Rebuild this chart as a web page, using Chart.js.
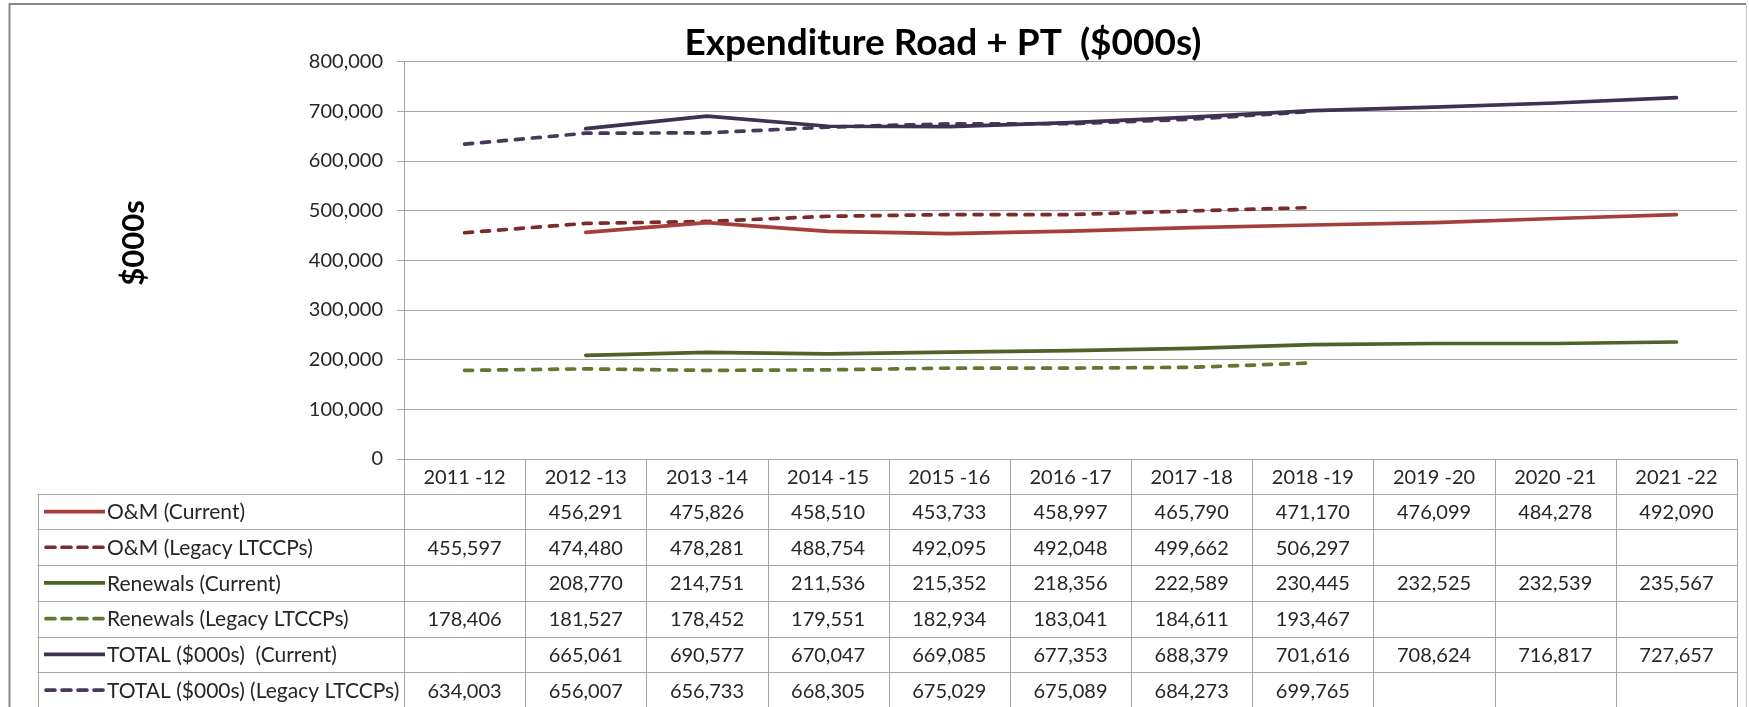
<!DOCTYPE html>
<html>
<head>
<meta charset="utf-8">
<script src="https://cdn.jsdelivr.net/npm/chart.js@4.4.1/dist/chart.umd.min.js"></script>
<style>
  html, body { margin: 0; padding: 0; background: #ffffff; overflow: hidden; }
  #wrap { width: 1749px; height: 707px; position: relative; }
</style>
</head>
<body>
<div id="wrap"><canvas id="c" width="1749" height="707"></canvas></div>
<script>
// ---- Data ----
const categories = ['2011 -12', '2012 -13', '2013 -14', '2014 -15', '2015 -16', '2016 -17',
                    '2017 -18', '2018 -19', '2019 -20', '2020 -21', '2021 -22'];
const omCurrent  = [null, 456291, 475826, 458510, 453733, 458997, 465790, 471170, 476099, 484278, 492090];
const omLegacy   = [455597, 474480, 478281, 488754, 492095, 492048, 499662, 506297, null, null, null];
const renCurrent = [null, 208770, 214751, 211536, 215352, 218356, 222589, 230445, 232525, 232539, 235567];
const renLegacy  = [178406, 181527, 178452, 179551, 182934, 183041, 184611, 193467, null, null, null];
const totCurrent = [null, 665061, 690577, 670047, 669085, 677353, 688379, 701616, 708624, 716817, 727657];
const totLegacy  = [634003, 656007, 656733, 668305, 675029, 675089, 684273, 699765, null, null, null];
const seriesNames = ['O&M (Current)', 'O&M (Legacy LTCCPs)', 'Renewals (Current)',
                     'Renewals (Legacy LTCCPs)', 'TOTAL ($000s)  (Current)', 'TOTAL ($000s) (Legacy LTCCPs)'];
const yTicks = [0, 100000, 200000, 300000, 400000, 500000, 600000, 700000, 800000];
const chartTitle = 'Expenditure Road + PT  ($000s)';
const yTitle = '$000s';

// ---- Styles ----
const FONT = 'Lato, "Open Sans", sans-serif';
const TEXT = '#262626';
const GRID = '#A6A6A6';
const colors = ['#A43F3B', '#7A2C2A', '#4F6228', '#627832', '#3F3151', '#47385C'];
const dashed = [false, true, false, true, false, true];
const DASH = [8, 9];

const seriesData = [omCurrent, omLegacy, renCurrent, renLegacy, totCurrent, totLegacy];
const fmt = v => (v === null || v === undefined) ? '' : v.toLocaleString('en-US');

const datasets = seriesData.map((d, i) => ({
  label: seriesNames[i],
  data: d,
  borderColor: colors[i],
  backgroundColor: colors[i],
  borderWidth: 3.7,
  borderDash: dashed[i] ? DASH : [],
  borderCapStyle: 'round',
  borderJoinStyle: 'round',
  pointRadius: 0,
  pointHoverRadius: 0,
  tension: 0,
  spanGaps: false,
  fill: false
}));

const framePlugin = {
  id: 'frameAndTable',
  beforeDraw(chart) {
    const ctx = chart.ctx;
    ctx.save();
    ctx.fillStyle = '#ffffff';
    ctx.fillRect(0, 0, chart.width, chart.height);
    // outer chart frame
    ctx.strokeStyle = '#878787';
    ctx.lineWidth = 2;
    ctx.beginPath();
    ctx.moveTo(9.5, 720); ctx.lineTo(9.5, 4); ctx.lineTo(1746, 4);
    ctx.stroke();
    ctx.strokeStyle = '#C8C8C8';
    ctx.lineWidth = 1;
    ctx.beginPath();
    ctx.moveTo(1746.5, 4); ctx.lineTo(1746.5, 720);
    ctx.stroke();
    ctx.restore();
  },
  afterDraw(chart) {
    const ctx = chart.ctx;
    const area = chart.chartArea;
    const xs = chart.scales.x;
    const n = categories.length;
    const colW = (area.right - area.left) / n;
    ctx.save();

    // Title
    ctx.fillStyle = '#000';
    ctx.font = 'bold 37px ' + FONT;
    ctx.textAlign = 'center';
    ctx.textBaseline = 'alphabetic';
    ctx.fillText(chartTitle, 943, 55);

    // Y axis title
    ctx.save();
    ctx.translate(134, 243);
    ctx.rotate(-Math.PI / 2);
    ctx.font = 'bold 31px ' + FONT;
    ctx.textAlign = 'center';
    ctx.textBaseline = 'middle';
    ctx.fillText(yTitle, 0, 0);
    ctx.restore();

    // Data table
    const tableLeft = 37.5;
    const top0 = area.bottom;
    const headerBottom = top0 + 34.7;
    const rowH = 35.7;
    const nRows = seriesData.length;
    const bottom = headerBottom + rowH * nRows;
    const px = v => Math.round(v) + 0.5;

    ctx.strokeStyle = GRID;
    ctx.lineWidth = 1;
    ctx.beginPath();
    for (let r = 0; r <= nRows; r++) {
      const y = px(headerBottom + r * rowH);
      ctx.moveTo(tableLeft, y); ctx.lineTo(area.right, y);
    }
    ctx.moveTo(px(tableLeft), headerBottom); ctx.lineTo(px(tableLeft), bottom);
    for (let i = 0; i <= n; i++) {
      const x = px(area.left + i * colW);
      ctx.moveTo(x, top0); ctx.lineTo(x, bottom);
    }
    ctx.stroke();

    ctx.fillStyle = TEXT;
    ctx.font = '20px ' + FONT;
    ctx.textAlign = 'center';
    ctx.textBaseline = 'middle';
    categories.forEach((c, i) => {
      ctx.fillText(c, xs.getPixelForValue(i), (top0 + headerBottom) / 2 + 1);
    });

    for (let r = 0; r < nRows; r++) {
      const yc = headerBottom + r * rowH + rowH / 2;
      // legend sample
      ctx.save();
      ctx.strokeStyle = colors[r];
      ctx.lineWidth = 3.7;
      ctx.lineCap = dashed[r] ? 'round' : 'butt';
      ctx.setLineDash(dashed[r] ? [9, 7] : []);
      ctx.beginPath();
      ctx.moveTo(dashed[r] ? 46 : 44, yc); ctx.lineTo(105, yc);
      ctx.stroke();
      ctx.restore();
      ctx.fillStyle = TEXT;
      ctx.textAlign = 'left';
      ctx.font = '21px ' + FONT;
      ctx.fillText(seriesNames[r], 107, yc + 1);
      ctx.font = '20px ' + FONT;
      ctx.textAlign = 'center';
      seriesData[r].forEach((v, i) => {
        ctx.fillText(fmt(v), xs.getPixelForValue(i), yc + 1);
      });
    }
    ctx.restore();
  }
};

new Chart(document.getElementById('c'), {
  type: 'line',
  data: { labels: categories, datasets },
  options: {
    responsive: false,
    animation: false,
    devicePixelRatio: 1,
    layout: { padding: { top: 61.7, bottom: 248, right: 12, left: 0 } },
    plugins: { legend: { display: false }, title: { display: false }, tooltip: { enabled: false } },
    scales: {
      x: { type: 'category', offset: true, display: false },
      y: {
        min: yTicks[0],
        max: yTicks[yTicks.length - 1],
        afterBuildTicks: s => { s.ticks = yTicks.map(v => ({ value: v })); },
        afterFit: s => { s.width = 404; },
        ticks: {
          font: { family: FONT, size: 20 },
          color: TEXT,
          padding: 14,
          callback: v => fmt(v)
        },
        grid: { color: GRID, lineWidth: 1, tickLength: 7, drawTicks: true },
        border: { color: GRID, width: 1 }
      }
    }
  },
  plugins: [framePlugin]
});
</script>
</body>
</html>
